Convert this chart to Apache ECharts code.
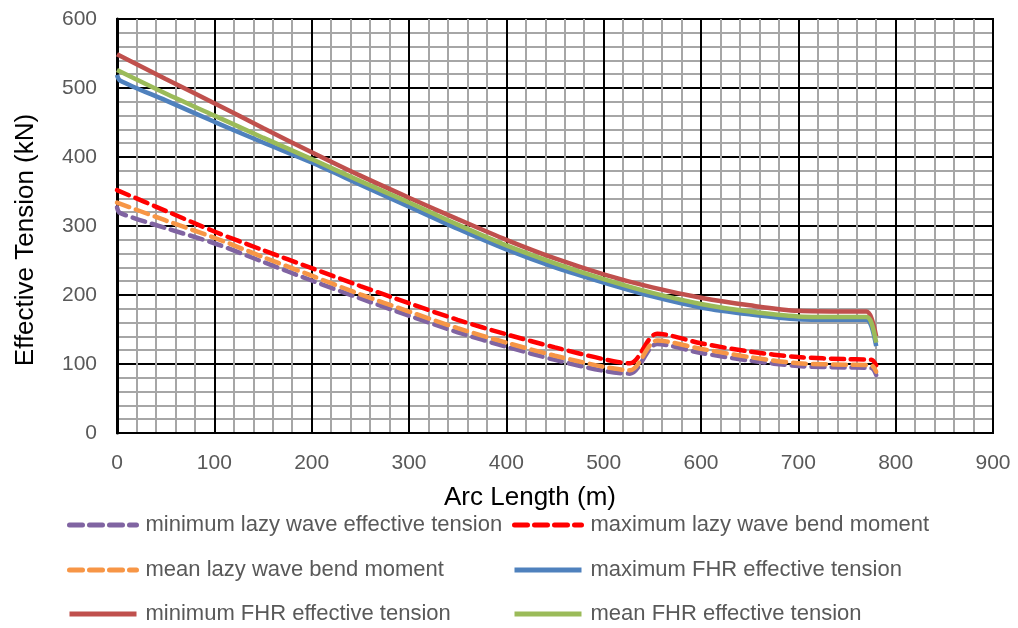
<!DOCTYPE html>
<html>
<head>
<meta charset="utf-8">
<script src="https://cdn.jsdelivr.net/npm/echarts@6/dist/echarts.min.js"></script>
<style>
  html, body { margin: 0; padding: 0; background: #fff; }
  #chart { width: 1018px; height: 628px; }
</style>
</head>
<body>
<div id="chart"></div>
<script>
// Arc length (m) / effective tension (kN) pairs for each case
const minLazyWaveTension = [[0,327],[3,319],[50,297],[100,275],[150,248],[200,221],[250,195],[300,170],[350,146],[400,125],[450,106],[500,90],[527,86],[555,129],[600,116],[650,105],[700,97],[750,95],[775,94],[780,84]];
const maxLazyWaveBend = [[0,352],[50,322],[100,292],[150,265],[200,239],[250,213],[300,188],[350,164],[400,143],[450,124],[500,107],[527,101],[555,144],[600,130],[650,118],[700,110],[750,107],[775,106],[780,98]];
const meanLazyWaveBend = [[0,334],[50,308],[100,283],[150,255],[200,228],[250,201],[300,176],[350,152],[400,131],[450,112],[500,96],[527,91],[555,134],[600,122],[650,110],[700,101],[750,99],[775,98],[780,89]];
const maxFhrTension = [[0,519],[3,511],[50,482],[100,451],[150,421],[200,392],[250,360],[300,328],[350,296],[400,266],[450,240],[500,218],[550,198],[600,182],[650,172],[700,165],[750,164],[770,164],[775,155],[780,126]];
const minFhrTension = [[0,549],[50,513],[100,478],[150,442],[200,407],[250,373],[300,341],[350,310],[400,280],[450,253],[500,230],[550,211],[600,196],[650,185],[700,177],[750,176],[770,176],[775,167],[780,140]];
const meanFhrTension = [[0,526],[50,492],[100,460],[150,428],[200,397],[250,365],[300,334],[350,302],[400,272],[450,246],[500,223],[550,203],[600,187],[650,176],[700,169],[750,168],[770,168],[775,160],[780,131]];

const seriesNames = [
  'minimum lazy wave effective tension',
  'maximum lazy wave bend moment',
  'mean lazy wave bend moment',
  'maximum FHR effective tension',
  'minimum FHR effective tension',
  'mean FHR effective tension'
];

const font = 'Liberation Sans, Arial, sans-serif';
const dash = [13, 7];

function line(name, data, color, dashed) {
  return {
    name: name,
    type: 'line',
    data: data,
    showSymbol: false,
    symbol: 'none',
    smooth: 0.3,
    lineStyle: {
      color: color,
      width: 4.5,
      type: dashed ? dash : 'solid',
      cap: dashed ? 'round' : 'butt'
    },
    itemStyle: { color: color },
    emphasis: { disabled: true }
  };
}

// One legend entry per box, laid out as two columns of three rows
const legendCols = [67, 512];
const legendRows = [513, 558, 602];
function legendEntry(index) {
  return {
    left: legendCols[index % 2],
    top: legendRows[Math.floor(index / 2)],
    padding: 0,
    itemWidth: 67,
    itemHeight: 14,
    itemStyle: { opacity: 0 },
    lineStyle: { width: 5 },
    textStyle: { fontFamily: font, fontSize: 22, lineHeight: 24, color: '#595959', padding: [0, 0, 0, 4] },
    data: [seriesNames[index]]
  };
}

const chart = echarts.init(document.getElementById('chart'), null, { renderer: 'canvas' });
chart.setOption({
  animation: false,
  backgroundColor: '#fff',
  grid: {
    left: 117, right: 25, top: 19, bottom: 195,
    show: true, borderColor: '#000', borderWidth: 2, backgroundColor: 'transparent'
  },
  xAxis: {
    type: 'value', min: 0, max: 900, interval: 100,
    name: 'Arc Length (m)', nameLocation: 'middle', nameGap: 52,
    nameTextStyle: { fontFamily: font, fontSize: 26, color: '#000', padding: [0, 50, 0, 0] },
    axisLine: { show: true, lineStyle: { color: '#000', width: 2 } },
    axisTick: { show: false },
    axisLabel: { fontFamily: font, fontSize: 21, color: '#595959', margin: 20 },
    splitLine: { show: true, lineStyle: { color: '#000', width: 2 } },
    minorTick: { show: false, splitNumber: 5 },
    minorSplitLine: { show: true, lineStyle: { color: '#A6A6A6', width: 2 } }
  },
  yAxis: {
    type: 'value', min: 0, max: 600, interval: 100,
    name: 'Effective Tension (kN)', nameLocation: 'middle', nameGap: 78,
    nameTextStyle: { fontFamily: font, fontSize: 26, color: '#000', padding: [0, 28, 0, 0] },
    axisLine: { show: true, lineStyle: { color: '#000', width: 3 } },
    axisTick: { show: false },
    axisLabel: { fontFamily: font, fontSize: 21, color: '#595959', margin: 20 },
    splitLine: { show: true, lineStyle: { color: '#000', width: 2 } },
    minorTick: { show: false, splitNumber: 5 },
    minorSplitLine: { show: true, lineStyle: { color: '#A6A6A6', width: 2 } }
  },
  legend: seriesNames.map((_, i) => legendEntry(i)),
  series: [
    line(seriesNames[0], minLazyWaveTension, '#8064A2', true),
    line(seriesNames[1], maxLazyWaveBend, '#FF0000', true),
    line(seriesNames[2], meanLazyWaveBend, '#F79646', true),
    line(seriesNames[3], maxFhrTension, '#4F81BD', false),
    line(seriesNames[4], minFhrTension, '#C0504D', false),
    line(seriesNames[5], meanFhrTension, '#9BBB59', false)
  ]
});
</script>
</body>
</html>
